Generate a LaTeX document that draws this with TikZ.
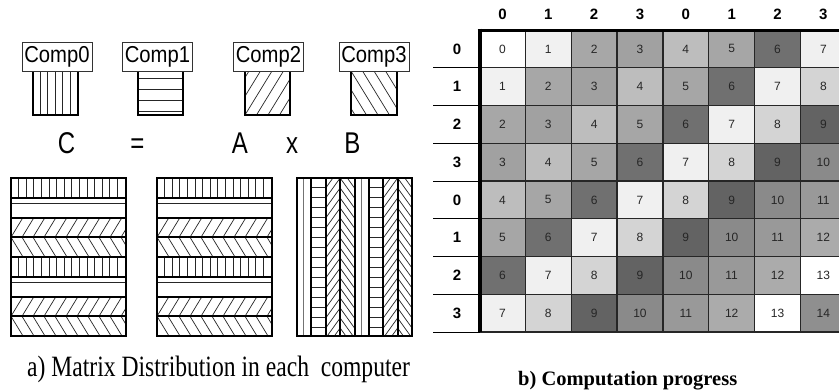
\documentclass[tikz,border=0pt]{standalone}
\usepackage{fontspec}
\setmainfont{Liberation Serif}
\setsansfont{Liberation Sans}
\usepackage{graphicx}
\definecolor{gv0}{gray}{1.0}
\definecolor{gv1}{gray}{0.945}
\definecolor{gv2}{gray}{0.655}
\definecolor{gv3}{gray}{0.63}
\definecolor{gv4}{gray}{0.74}
\definecolor{gv5}{gray}{0.65}
\definecolor{gv6}{gray}{0.44}
\definecolor{gv7}{gray}{0.94}
\definecolor{gv8}{gray}{0.83}
\definecolor{gv9}{gray}{0.39}
\definecolor{gv10}{gray}{0.54}
\definecolor{gv11}{gray}{0.60}
\definecolor{gv12}{gray}{0.67}
\definecolor{gv13}{gray}{1.0}
\definecolor{gv14}{gray}{0.56}
\begin{document}
\begin{tikzpicture}[x=1pt,y=-1pt,
  hatch/.style={line width=0.7pt,black!85},
  thickline/.style={line width=2pt,black},
  complabel/.style={draw=black!80,fill=white,line width=0.8pt,minimum width=70pt,minimum height=29pt,inner sep=0pt,font=\fontsize{23}{23}\selectfont\sffamily},
  cell/.style={draw=black!85,line width=1.2pt,minimum width=45.85pt,minimum height=37.75pt,inner sep=0pt,outer sep=0pt,font=\fontsize{12}{12}\selectfont\sffamily,text=black!85},
  hdr/.style={font=\fontsize{15}{15}\selectfont\sffamily\bfseries,inner sep=0pt},
  eqletter/.style={inner sep=0pt,anchor=base,font=\fontsize{30}{30}\selectfont\sffamily}
]
\clip (0,0) rectangle (839,391);
\fill[white] (0,0) rectangle (839,391);

% ---------- Comp squares ----------
% Comp0: vertical lines
\foreach \i in {1,...,5} \draw[hatch] (32.5+7.5*\i,71) -- (32.5+7.5*\i,115);
\draw[thickline] (32.5,71) -- (32.5,115) -- (77.5,115) -- (77.5,71);
% Comp1: horizontal lines
\foreach \yy in {78.5,89.5,100.5,111.5} \draw[hatch] (138,\yy) -- (183,\yy);
\draw[thickline] (138,71) -- (138,115) -- (183,115) -- (183,71);
% Comp2: / lines
\begin{scope}
\clip (245,71) rectangle (290,115);
\foreach \i in {-3,...,4} \draw[hatch] (245+11.5*\i,115) -- ++(27,-44);
\end{scope}
\draw[thickline] (245,71) -- (245,115) -- (290,115) -- (290,71);
% Comp3: \ lines
\begin{scope}
\clip (351,71) rectangle (397,115);
\foreach \i in {-3,...,4} \draw[hatch] (351+11.5*\i,71) -- ++(27,44);
\end{scope}
\draw[thickline] (351,71) -- (351,115) -- (397,115) -- (397,71);

\node[complabel] (comp0) at (57,56.5) {\scalebox{0.88}[1]{Comp0}};
\node[complabel] (comp1) at (157.5,56.5) {\scalebox{0.88}[1]{Comp1}};
\node[complabel] (comp2) at (268.5,56.5) {\scalebox{0.88}[1]{Comp2}};
\node[complabel] (comp3) at (374,56.5) {\scalebox{0.88}[1]{Comp3}};

% ---------- C = A x B ----------
\node[eqletter] (lc) at (66.5,153) {\scalebox{0.8}[1]{C}};
\node[eqletter] (leq) at (137.5,153) {\scalebox{0.8}[1]{=}};
\node[eqletter] (la) at (240,153) {\scalebox{0.8}[1]{A}};
\node[eqletter] (lx) at (292,153) {\scalebox{0.8}[1]{x}};
\node[eqletter] (lb) at (352.5,153) {\scalebox{0.8}[1]{B}};

% ---------- matrices C and A (row bands) ----------
\foreach \m in {11,157}{
  \foreach \k in {0,...,7}{
    \pgfmathsetmacro\yt{178+19.75*\k}
    \pgfmathsetmacro\yb{\yt+19.75}
    \pgfmathtruncatemacro\p{mod(\k,4)}
    \begin{scope}
      \clip (\m,\yt) rectangle (\m+115,\yb);
      \ifcase\p
        \foreach \i in {1,...,15} \draw[hatch] (\m+7.6*\i,\yt) -- ++(0,19.75);
      \or
        \draw[hatch] (\m,\yt+6) -- ++(115,0);
      \or
        \foreach \i in {-2,...,11} \draw[hatch] (\m+11*\i,\yb) -- ++(12,-19.75);
      \or
        \foreach \i in {-2,...,11} \draw[hatch] (\m+11*\i,\yt) -- ++(12,19.75);
      \fi
    \end{scope}
  }
  \foreach \k in {1,...,7} \draw[thickline] (\m,178+19.75*\k) -- ++(115,0);
  \draw[line width=2.5pt] (\m,178) rectangle (\m+115,336);
}

% ---------- matrix B (column bands) ----------
\foreach \k in {0,...,7}{
  \pgfmathsetmacro\xl{297+14.375*\k}
  \pgfmathtruncatemacro\p{mod(\k,4)}
  \begin{scope}
    \clip (\xl,178) rectangle (\xl+14.375,336);
    \ifcase\p
      \draw[line width=1pt,black!55] (\xl+6.5,178) -- (\xl+6.5,336);
    \or
      \foreach \i in {0,...,15} \draw[hatch] (\xl,187.7+10*\i) -- ++(14.375,0);
    \or
      \foreach \i in {-2,...,16} \draw[hatch] (\xl,198+10*\i) -- ++(14.375,-20);
    \or
      \foreach \i in {-2,...,16} \draw[hatch] (\xl,178+10*\i) -- ++(14.375,20);
    \fi
  \end{scope}
}
\foreach \k in {1,...,7} \draw[thickline] (297+14.375*\k,178) -- ++(0,158);
\draw[line width=2.5pt] (297,178) rectangle (412,336);

% ---------- computation grid ----------
\foreach \i in {0,...,7}{
  \foreach \j in {0,...,7}{
    \pgfmathtruncatemacro\v{\i+\j}
    \node[cell,fill=gv\v] (c-\i-\j) at ({479.5+45.85*(\j+0.5)},{30+37.75*(\i+0.5)}) {\v};
  }
}
\foreach \j/\l in {0/0,1/1,2/2,3/3,4/0,5/1,6/2,7/3}
  \node[hdr] (ch\j) at ({479.5+45.85*(\j+0.5)},14) {\l};
\foreach \i/\l in {0/0,1/1,2/2,3/3,4/0,5/1,6/2,7/3}
  \node[hdr] (rh\i) at (457,{30+37.75*(\i+0.5)}) {\l};
\foreach \r in {1,...,8} \draw[line width=1pt] (433,{30+37.75*\r}) -- (479.5,{30+37.75*\r});
\draw[line width=3pt] (477.5,30) -- (839,30);
\draw[line width=4pt] (479.5,28.5) -- (479.5,332);

% ---------- captions ----------
\node[anchor=base west,inner sep=0pt,font=\fontsize{29.5}{29.5}\selectfont] (capa) at (27,376)
  {\scalebox{0.8}[1]{a) Matrix Distribution in each\ \ computer}};
\node[anchor=base west,inner sep=0pt,font=\fontsize{20.5}{20.5}\selectfont\bfseries] (capb) at (518,385)
  {b) Computation progress};
\end{tikzpicture}
\end{document}
